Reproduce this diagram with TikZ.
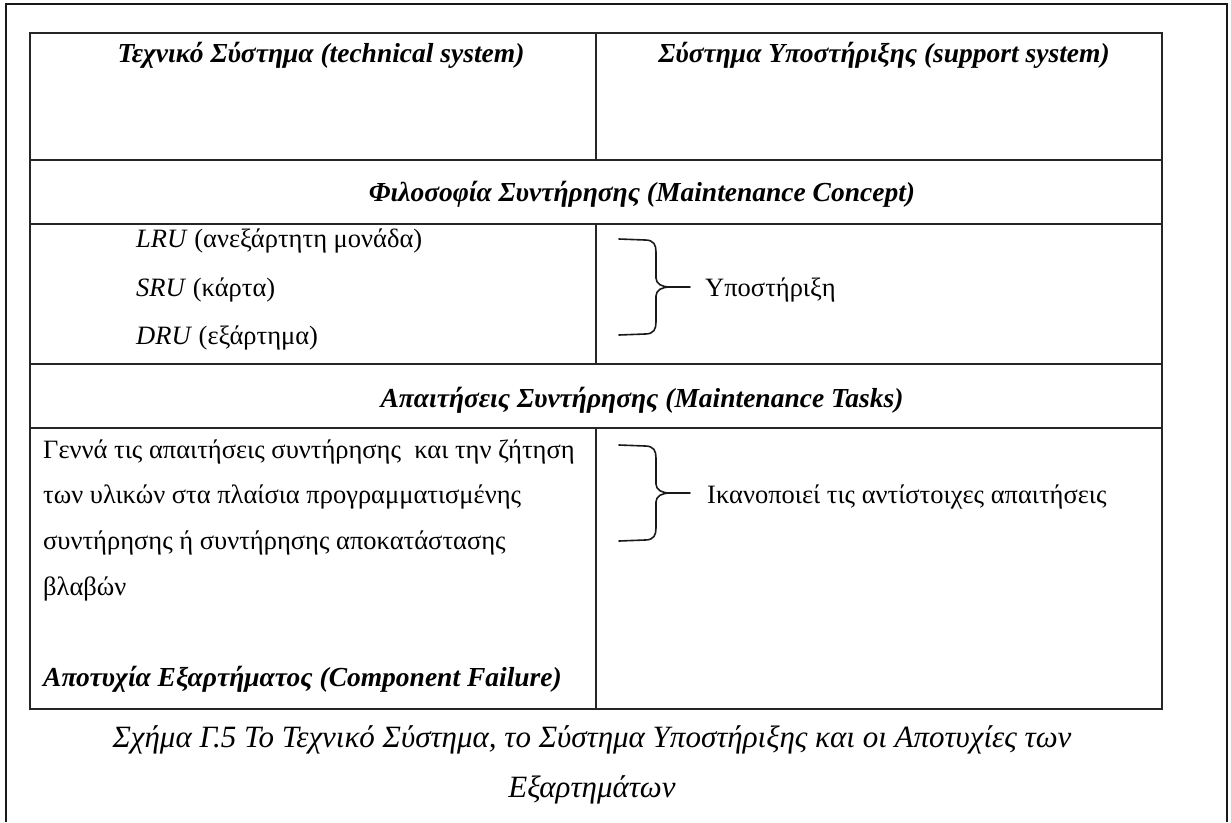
\documentclass[tikz,border=0pt]{standalone}
\usepackage{fontspec}
\setmainfont{Liberation Serif}
\begin{document}
\begin{tikzpicture}[x=1pt,y=-1pt,
  body/.style={font=\fontsize{26.5}{30}\selectfont, inner sep=0pt},
  head/.style={font=\fontsize{27.5}{32}\selectfont\bfseries\itshape, inner sep=0pt},
  capt/.style={font=\fontsize{31}{36}\selectfont\itshape, inner sep=0pt, anchor=base},
  rulel/.style={line width=1.3pt, draw=black!85},
  framel/.style={line width=2pt, draw=black!90},
  bracel/.style={line width=1.6pt, line cap=round, line join=round, draw=black!90},
  rbrace/.pic={
    \draw[bracel] (-37,-48) -- (-11,-47) .. controls (-2,-47) and (0,-42) .. (0,-35) -- (0,-9) .. controls (0,-3) and (6,0) .. (14,0) -- (34,0);
    \draw[bracel] (14,0) .. controls (6,0) and (0,3) .. (0,9) -- (0,35) .. controls (0,42) and (-2,47) .. (-11,47) -- (-37,48);
  }]
\useasboundingbox (0,0) rectangle (1231,822);
% outer frame (open at the bottom)
\draw[framel] (6,822) -- (6,4) -- (1227,4) -- (1227,822);
% table grid
\draw[rulel] (30,33) rectangle (1162,709);
\draw[rulel] (30,160) -- (1162,160);
\draw[rulel] (30,224) -- (1162,224);
\draw[rulel] (30,364) -- (1162,364);
\draw[rulel] (30,428) -- (1162,428);
\draw[rulel] (596,33) -- (596,160);
\draw[rulel] (596,224) -- (596,364);
\draw[rulel] (596,428) -- (596,709);
% headers
\node[head, anchor=base] (tech) at (321,62) {Τεχνικό Σύστημα (technical system)};
\node[head, anchor=base] (supp) at (884,62) {Σύστημα Υποστήριξης (support system)};
\node[head, anchor=base] (concept) at (642,201) {Φιλοσοφία Συντήρησης (Maintenance Concept)};
\node[head, anchor=base] (tasks) at (642,407) {Απαιτήσεις Συντήρησης (Maintenance Tasks)};
% maintenance concept row
\node[body, anchor=base west] (lru) at (136,247) {\textit{LRU} (ανεξάρτητη μονάδα)};
\node[body, anchor=base west] (sru) at (136,296) {\textit{SRU} (κάρτα)};
\node[body, anchor=base west] (dru) at (136,344) {\textit{DRU} (εξάρτημα)};
\pic at (656,287) {rbrace};
\node[body, anchor=base west] (ypost) at (705,296) {Υποστήριξη};
% maintenance tasks row
\node[body, anchor=base west] (t1) at (43,458) {Γεννά τις απαιτήσεις συντήρησης\ \ και την ζήτηση};
\node[body, anchor=base west] (t2) at (43,503) {των υλικών στα πλαίσια προγραμματισμένης};
\node[body, anchor=base west] (t3) at (43,549) {συντήρησης ή συντήρησης αποκατάστασης};
\node[body, anchor=base west] (t4) at (43,595) {βλαβών};
\node[head, anchor=base west] (fail) at (43,686) {Αποτυχία Εξαρτήματος (Component Failure)};
\pic at (656,493) {rbrace};
\node[body, anchor=base west] (ikan) at (707,503) {Ικανοποιεί τις αντίστοιχες απαιτήσεις};
% caption
\node[capt] (cap1) at (592,747) {Σχήμα Γ.5 Το Τεχνικό Σύστημα, το Σύστημα Υποστήριξης και οι Αποτυχίες των};
\node[capt] (cap2) at (592,797) {Εξαρτημάτων};
\end{tikzpicture}
\end{document}
